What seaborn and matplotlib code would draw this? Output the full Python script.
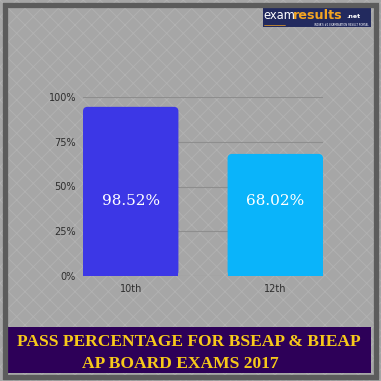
import matplotlib
matplotlib.use("Agg")
import matplotlib.pyplot as plt
import seaborn as sns
import pandas as pd
from matplotlib.patches import Rectangle, FancyBboxPatch

categories = ["10th", "12th"]
bar_heights = [94.5, 68.2]          # heights as drawn in the picture
bar_labels = ["98.52%", "68.02%"]
bar_colors = ["#3c37e6", "#0ab4fa"]
yticks = [0, 25, 50, 75, 100]
ytick_labels = ["0%", "25%", "50%", "75%", "100%"]
title_lines = ["PASS PERCENTAGE FOR BSEAP & BIEAP", "AP BOARD EXAMS 2017"]

sns.set_theme(style="white")
plt.rcParams['font.family'] = ['DejaVu Sans']
plt.rcParams['hatch.linewidth'] = 0.6

W = 381
fig = plt.figure(figsize=(3.81, 3.81), dpi=100)
fig.patch.set_facecolor("#a6a6a6")

# hatched background
bg = Rectangle((0, 0), 1, 1, transform=fig.transFigure, facecolor="#a6a6a6",
               edgecolor="#b2b2b2", hatch="xx", linewidth=0, zorder=-10)
fig.patches.append(bg)

# outer border
border = Rectangle((4.5/W, 4.5/W), 1 - 9.5/W, 1 - 9.5/W, transform=fig.transFigure,
                   facecolor="none", edgecolor="#5c5c5c", linewidth=3.8, zorder=5)
fig.patches.append(border)

ax = fig.add_axes([83/W, 105/W, 240/W, 179/W])
ax.set_facecolor("none")
df = pd.DataFrame({"cat": categories, "val": bar_heights})
sns.barplot(data=df, x="cat", y="val", hue="cat", palette=bar_colors,
            width=0.66, ax=ax, legend=False, saturation=1)

# rounded tops
for p, c in zip(list(ax.patches), bar_colors):
    x0, w, h = p.get_x(), p.get_width(), p.get_height()
    p.set_visible(False)
    rx = 4.5 / 144
    ry = 4.5 / 1.79
    fb = FancyBboxPatch((x0, 0), w, h, boxstyle=f"round,pad=0,rounding_size={rx}",
                        mutation_aspect=ry / rx, facecolor=c, edgecolor="none", zorder=3)
    ax.add_patch(fb)
    ax.add_patch(Rectangle((x0, 0), w, h / 2, facecolor=c, edgecolor="none", zorder=3))

for i, lab in enumerate(bar_labels):
    ax.text(i, 42, lab, ha="center", va="center", color="white",
            fontsize=11, family="DejaVu Serif", zorder=4)

ax.set_xlim(-0.33, 1.33)
ax.set_ylim(0, 100)
ax.set_yticks(yticks)
ax.set_yticklabels(ytick_labels)
ax.grid(axis="y", color="#8e8e8e", linewidth=0.8)
ax.set_axisbelow(True)
for s in ax.spines.values():
    s.set_visible(False)
ax.tick_params(axis="both", length=0, labelsize=7, labelcolor="#2e2e2e")
ax.tick_params(axis="y", pad=5)
ax.tick_params(axis="x", pad=6)
ax.set_xlabel("")
ax.set_ylabel("")

# banner
banner = Rectangle((7/W, (381 - 373)/W), 364/W, 46/W, transform=fig.transFigure,
                   facecolor="#2d0058", edgecolor="none", zorder=4)
fig.patches.append(banner)
fig.text(189/W, 1 - 342/W, title_lines[0], ha="center", va="center", color="#f7c91a",
         fontsize=12.6, fontweight="bold", family="Liberation Serif", zorder=6)
fig.text(180/W, 1 - 364/W, title_lines[1], ha="center", va="center", color="#f7c91a",
         fontsize=12.6, fontweight="bold", family="Liberation Serif", zorder=6)

# logo
logo = Rectangle((263/W, 1 - 27/W), 108/W, 21/W, transform=fig.transFigure,
                 facecolor="#222a5e", edgecolor="none", zorder=4)
fig.patches.append(logo)
fig.text(263.5/W, 1 - 15.5/W, "exam", ha="left", va="center", color="white",
         fontsize=8.3, zorder=6)
fig.text(293/W, 1 - 15.5/W, "results", ha="left", va="center", color="#f4a522",
         fontsize=9.2, fontweight="bold", zorder=6)
fig.text(346/W, 1 - 17/W, ".net", ha="left", va="center", color="white",
         fontsize=4.5, fontweight="bold", zorder=6)
fig.text(369/W, 1 - 24.5/W, "INDIA'S #1 EXAMINATION RESULT PORTAL", ha="right", va="center",
         color="white", fontsize=1.9, zorder=6)
fig.add_artist(plt.Line2D([264/W, 285/W], [1 - 24.5/W, 1 - 24.5/W], color="#f4a522",
                          linewidth=0.5, zorder=6))

fig.savefig("out.png", dpi=100, facecolor=fig.get_facecolor())
